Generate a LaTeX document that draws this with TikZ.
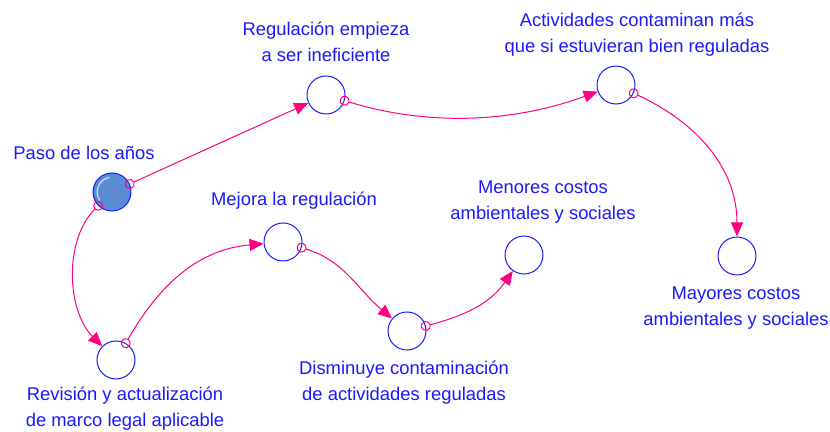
\documentclass[tikz,border=0pt]{standalone}
\usepackage{fontspec}
\setmainfont{Liberation Sans}
\usetikzlibrary{arrows.meta}

\definecolor{linkpink}{RGB}{255,0,128}
\definecolor{varblue}{RGB}{25,25,255}
\definecolor{ballfill}{RGB}{90,140,212}

\tikzset{
  var/.style={circle, draw=varblue, line width=0.5pt, minimum size=19pt, inner sep=0pt},   % 变量圆圈
  lbl/.style={text=varblue, align=center, font=\fontsize{9.2}{13}\selectfont},             % 文字
  link/.style={draw=linkpink, line width=0.5pt,
    arrows={Circle[open,length=5pt,width=5pt]-Triangle[length=7pt,width=6pt]},
    shorten <=-2.5pt}                                                                        % 因果箭头
}

\begin{document}
\begin{tikzpicture}[x=0.5pt,y=0.5pt]
\useasboundingbox (0,0) rectangle (830,432);

%==================== 变量 ====================
\node[var, fill=ballfill] (paso) at (112,240) {};
\draw[white!75!ballfill, line width=0.6pt] ([shift={(100:7.4pt)}]paso.center)
    arc[start angle=100, end angle=215, radius=7.4pt];
\node[var] (regul)    at (326,337) {};
\node[var] (activ)    at (616,347) {};
\node[var] (mayores)  at (737,176) {};
\node[var] (revision) at (116,72)  {};
\node[var] (mejora)   at (283,190) {};
\node[var] (dismin)   at (407,101) {};
\node[var] (menores)  at (524,177) {};

%==================== 文字 ====================
\node[lbl] (pasolbl)     at (84,279)    {Paso de los años};
\node[lbl] (regullbl)    at (326,390)   {Regulación empieza\\a ser ineficiente};
\node[lbl] (activlbl)    at (637,397.5) {Actividades contaminan más\\que si estuvieran bien reguladas};
\node[lbl] (mayoreslbl)  at (736,124)   {Mayores costos\\ambientales y sociales};
\node[lbl] (revisionlbl) at (125,23.5)  {Revisión y actualización\\de marco legal aplicable};
\node[lbl] (mejoralbl)   at (294,231)   {Mejora la regulación};
\node[lbl] (disminlbl)   at (404,49)    {Disminuye contaminación\\de actividades reguladas};
\node[lbl] (menoreslbl)  at (543,229.5) {Menores costos\\ambientales y sociales};

%==================== 箭头 ====================
\draw[link] (paso) -- (regul);
\draw[link] (paso) to[out=225, in=135, looseness=0.9] (revision);
\draw[link] (regul) to[out=-17, in=200, looseness=0.9] (activ);
\draw[link] (activ) to[out=-25, in=90] (mayores);
\draw[link] (revision) to[out=60, in=185] (mejora);
\draw[link] (mejora) to[out=-17, in=140] (dismin);
\draw[link] (dismin) to[out=15, in=235] (menores);

\end{tikzpicture}
\end{document}
